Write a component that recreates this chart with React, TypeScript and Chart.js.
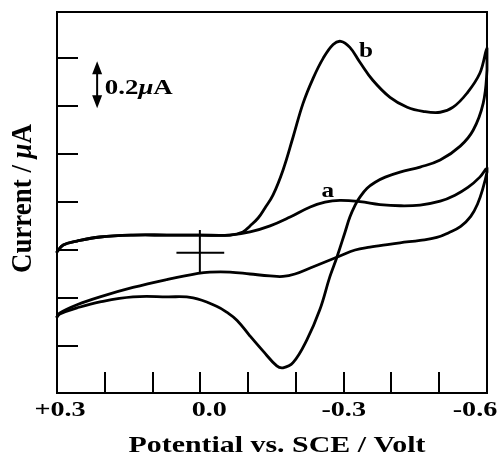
import React, { useEffect, useRef } from "react";
import { Chart, registerables } from "chart.js";

Chart.register(...registerables);

// ---- axis definitions ----
const xMin = -0.6;
const xMax = 0.3;
const yMin = -0.595;
const yMax = 0.99;
const xTickValues = [0.2, 0.1, 0.0, -0.1, -0.2, -0.3, -0.4, -0.5];
const xLabelValues = [0.3, 0.0, -0.3, -0.6];
const xLabelTexts = ["+0.3", "0.0", "-0.3", "-0.6"];
const yTickValues = [-0.4, -0.2, 0, 0.2, 0.4, 0.6, 0.8];
const xTitle = "Potential vs. SCE / Volt";
const yTitleParts = ["Current / ", "\u03bc", "A"];

// ---- data (potential V, current µA) ----
const startV = [0.3, 0.287, 0.258, 0.21, 0.141, 0.07, 0.001, -0.062];
const startI = [-0.008, 0.021, 0.037, 0.054, 0.062, 0.062, 0.062, 0.062];

const bForwardV = [-0.089, -0.104, -0.121, -0.135, -0.152, -0.173, -0.194, -0.215, -0.236, -0.257, -0.278, -0.294, -0.313, -0.334, -0.361, -0.397, -0.433, -0.466, -0.502, -0.529, -0.558, -0.585, -0.6];
const bForwardI = [0.075, 0.1, 0.133, 0.174, 0.228, 0.332, 0.469, 0.61, 0.714, 0.797, 0.855, 0.868, 0.843, 0.781, 0.706, 0.635, 0.594, 0.577, 0.573, 0.594, 0.652, 0.735, 0.839];

const bReverseV = [-0.6, -0.592, -0.571, -0.544, -0.502, -0.46, -0.418, -0.387, -0.366, -0.349, -0.334, -0.324, -0.313, -0.303, -0.286, -0.271, -0.25, -0.223, -0.194, -0.173, -0.16, -0.131, -0.104, -0.077, -0.056, -0.035, 0.015, 0.07, 0.141, 0.21, 0.258, 0.294, 0.3];
const bReverseI = [0.748, 0.61, 0.498, 0.432, 0.374, 0.345, 0.324, 0.303, 0.282, 0.257, 0.22, 0.187, 0.137, 0.075, -0.029, -0.112, -0.249, -0.374, -0.469, -0.49, -0.482, -0.42, -0.358, -0.293, -0.26, -0.235, -0.199, -0.195, -0.195, -0.216, -0.241, -0.266, -0.278];

const aForwardV = [-0.104, -0.146, -0.188, -0.23, -0.261, -0.292, -0.334, -0.376, -0.418, -0.46, -0.502, -0.533, -0.56, -0.585, -0.6];
const aForwardI = [0.075, 0.1, 0.137, 0.179, 0.199, 0.206, 0.201, 0.189, 0.184, 0.187, 0.203, 0.228, 0.26, 0.303, 0.341];

const aReverseV = [-0.6, -0.592, -0.58, -0.566, -0.545, -0.52, -0.495, -0.46, -0.418, -0.376, -0.355, -0.324, -0.292, -0.261, -0.23, -0.198, -0.173, -0.146, -0.104, -0.062, -0.02, 0.005, 0.07, 0.141, 0.21, 0.258, 0.294, 0.3];
const aReverseI = [0.324, 0.26, 0.19, 0.14, 0.098, 0.072, 0.052, 0.04, 0.03, 0.018, 0.012, 0.0, -0.025, -0.05, -0.075, -0.1, -0.11, -0.108, -0.1, -0.092, -0.092, -0.097, -0.123, -0.156, -0.195, -0.228, -0.262, -0.278];

// crosshair marking the origin
const crossV = [0.05, -0.05];
const crossI = [-0.012];
const crossVertV = [0.001];
const crossVertI = [0.083, -0.096];

// annotations (data coordinates)
const scaleBarV = 0.216;
const scaleBarI = [0.785, 0.59];
const scaleBarLabelAt = [0.2, 0.648];
const curveLabels = [
  { text: "a", v: -0.267, i: 0.22 },
  { text: "b", v: -0.347, i: 0.801 },
];

const zip = (vs: number[], is: number[]) => vs.map((v, k) => ({ x: v, y: is[k] }));

const SERIF = '"Liberation Serif", "Times New Roman", serif';

function measureParts(ctx: CanvasRenderingContext2D, parts: { t: string; f: string }[]) {
  let w = 0;
  for (const p of parts) {
    ctx.font = p.f;
    w += ctx.measureText(p.t).width;
  }
  return w;
}

function fillParts(ctx: CanvasRenderingContext2D, parts: { t: string; f: string }[], x: number, y: number) {
  let cx = x;
  for (const p of parts) {
    ctx.font = p.f;
    ctx.fillText(p.t, cx, y);
    cx += ctx.measureText(p.t).width;
  }
}

const framePlugin = {
  id: "frame",
  afterDatasetsDraw(chart: any) {
    const ctx: CanvasRenderingContext2D = chart.ctx;
    const { left, right, top, bottom } = chart.chartArea;
    const xs = chart.scales.x;
    const ys = chart.scales.y;
    ctx.save();
    ctx.strokeStyle = "#000";
    ctx.fillStyle = "#000";
    ctx.lineWidth = 2;
    ctx.lineCap = "butt";
    // frame
    ctx.strokeRect(left, top, right - left, bottom - top);
    // inward ticks
    const tickLen = 21;
    ctx.beginPath();
    for (const v of xTickValues) {
      const px = Math.round(xs.getPixelForValue(v));
      ctx.moveTo(px, bottom);
      ctx.lineTo(px, bottom - tickLen);
    }
    for (const v of yTickValues) {
      const py = Math.round(ys.getPixelForValue(v));
      ctx.moveTo(left, py);
      ctx.lineTo(left + tickLen, py);
    }
    ctx.stroke();

    // x tick labels
    const sx = 1.28;
    const labelShift = [3, 9, 0, -12];
    ctx.textBaseline = "alphabetic";
    ctx.font = `bold 22px ${SERIF}`;
    xLabelValues.forEach((v, k) => {
      const px = xs.getPixelForValue(v) + labelShift[k];
      ctx.save();
      ctx.translate(px, bottom + 23);
      ctx.scale(sx, 1);
      ctx.textAlign = "center";
      ctx.fillText(xLabelTexts[k], 0, 0);
      ctx.restore();
    });

    // x title
    ctx.save();
    ctx.font = `bold 23px ${SERIF}`;
    ctx.translate((left + right) / 2 + 5, bottom + 59);
    ctx.scale(1.3, 1);
    ctx.textAlign = "center";
    ctx.fillText(xTitle, 0, 0);
    ctx.restore();

    // y title (rotated)
    const yParts = [
      { t: yTitleParts[0], f: `bold 23px ${SERIF}` },
      { t: yTitleParts[1], f: `italic bold 23px ${SERIF}` },
      { t: yTitleParts[2], f: `bold 23px ${SERIF}` },
    ];
    ctx.save();
    ctx.translate(31, (top + bottom) / 2 - 4);
    ctx.rotate(-Math.PI / 2);
    ctx.scale(1.17, 1.3);
    ctx.textAlign = "left";
    const yw = measureParts(ctx, yParts);
    fillParts(ctx, yParts, -yw / 2, 0);
    ctx.restore();

    // scale bar with double arrow
    const bx = xs.getPixelForValue(scaleBarV);
    const by1 = ys.getPixelForValue(scaleBarI[0]);
    const by2 = ys.getPixelForValue(scaleBarI[1]);
    const headL = 13;
    const headW = 5;
    ctx.beginPath();
    ctx.moveTo(bx, by1 + headL - 2);
    ctx.lineTo(bx, by2 - headL + 2);
    ctx.stroke();
    ctx.beginPath();
    ctx.moveTo(bx, by1);
    ctx.lineTo(bx - headW, by1 + headL);
    ctx.lineTo(bx + headW, by1 + headL);
    ctx.closePath();
    ctx.moveTo(bx, by2);
    ctx.lineTo(bx - headW, by2 - headL);
    ctx.lineTo(bx + headW, by2 - headL);
    ctx.closePath();
    ctx.fill();

    const sParts = [
      { t: "0.2", f: `bold 21px ${SERIF}` },
      { t: "\u03bc", f: `italic bold 21px ${SERIF}` },
      { t: "A", f: `bold 21px ${SERIF}` },
    ];
    ctx.save();
    ctx.translate(xs.getPixelForValue(scaleBarLabelAt[0]), ys.getPixelForValue(scaleBarLabelAt[1]));
    ctx.scale(1.28, 1);
    ctx.textAlign = "left";
    fillParts(ctx, sParts, 0, 0);
    ctx.restore();

    // curve labels
    for (const l of curveLabels) {
      ctx.save();
      ctx.font = `bold 21px ${SERIF}`;
      ctx.translate(xs.getPixelForValue(l.v), ys.getPixelForValue(l.i));
      ctx.scale(1.2, 1);
      ctx.textAlign = "center";
      ctx.fillText(l.text, 0, 0);
      ctx.restore();
    }
    ctx.restore();
  },
};

export default function App() {
  const canvasRef = useRef<HTMLCanvasElement | null>(null);

  useEffect(() => {
    if (!canvasRef.current) return;
    const curveStyle = {
      showLine: true,
      borderColor: "#000",
      borderWidth: 2.8,
      tension: 0.4,
      pointRadius: 0,
      fill: false,
      borderJoinStyle: "round" as const,
      borderCapStyle: "round" as const,
      clip: 4,
    };
    const crossStyle = {
      showLine: true,
      borderColor: "#000",
      borderWidth: 2,
      tension: 0,
      pointRadius: 0,
      fill: false,
    };
    const chart = new Chart(canvasRef.current, {
      type: "scatter",
      data: {
        datasets: [
          {
            label: "a",
            data: [...zip(startV, startI), ...zip(aForwardV, aForwardI), ...zip(aReverseV, aReverseI)],
            ...curveStyle,
          },
          {
            label: "b",
            data: [...zip(startV, startI), ...zip(bForwardV, bForwardI), ...zip(bReverseV, bReverseI)],
            ...curveStyle,
          },
          {
            label: "cross-h",
            data: crossV.map((v) => ({ x: v, y: crossI[0] })),
            ...crossStyle,
          },
          {
            label: "cross-v",
            data: crossVertI.map((i) => ({ x: crossVertV[0], y: i })),
            ...crossStyle,
          },
        ],
      },
      options: {
        animation: false,
        responsive: false,
        maintainAspectRatio: false,
        layout: { padding: { left: 57, right: 15, top: 12, bottom: 63 } },
        plugins: { legend: { display: false }, tooltip: { enabled: false } },
        scales: {
          x: { type: "linear", min: xMin, max: xMax, reverse: true, display: false },
          y: { type: "linear", min: yMin, max: yMax, display: false },
        },
      },
      plugins: [framePlugin],
    } as any);
    return () => chart.destroy();
  }, []);

  return (
    <div style={{ position: "absolute", left: 0, top: 0, width: 502, height: 456, background: "#fff" }}>
      <canvas ref={canvasRef} width={502} height={456} />
    </div>
  );
}
